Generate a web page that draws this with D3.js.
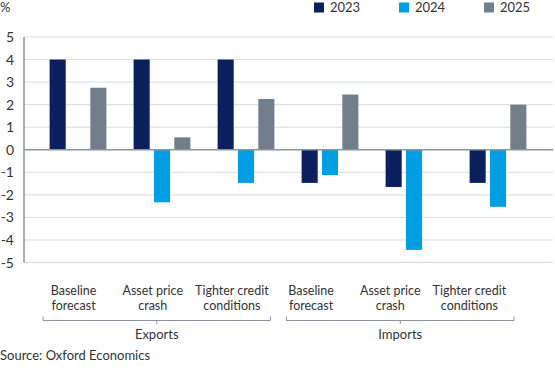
<!DOCTYPE html>
<html>
<head>
<meta charset="utf-8">
<script src="https://cdn.jsdelivr.net/npm/d3@7"></script>
<style>
  body { margin: 0; background: #fff; }
  svg text { font-family: Lato, "Open Sans", sans-serif; fill: #333; }
</style>
</head>
<body>
<div id="chart"></div>
<script>
// grouped bar chart: trade growth by scenario, 2023-2025

var scenarios = ['Baseline forecast', 'Asset price crash', 'Tighter credit conditions'];
var flows = ['Exports', 'Imports'];
var years = ['2023', '2024', '2025'];
// one row per year, six values: exports x3 scenarios, then imports x3 scenarios
var values2023 = [4.0, 4.0, 4.0, -1.47, -1.65, -1.47];
var values2024 = [0, -2.33, -1.47, -1.12, -4.44, -2.53];
var values2025 = [2.75, 0.55, 2.25, 2.45, 0, 2.0];
var yTicks = [5, 4, 3, 2, 1, 0, -1, -2, -3, -4, -5];

var colors = ['#0a1f5c', '#009fe3', '#737e8c'];
var width = 555;
var height = 372;

var svg = d3.select('#chart').append('svg')
      .attr('width', width)
      .attr('height', height);

// category keys like "Exports|Baseline forecast"
var cats = [];
flows.forEach(f => scenarios.forEach(s => cats.push(f + '|' + s)));

var series = [values2023, values2024, values2025];
var data = cats.map((c, i) => ({
      cat: c,
      vals: years.map((y, j) => ({ year: y, value: series[j][i] }))
}));

var x0 = d3.scaleBand().domain(cats).range([36, 540]);
var x1 = d3.scaleBand().domain(years).range([0, x0.bandwidth()])
      .paddingInner(0.21).paddingOuter(0.67);
var y = d3.scaleLinear().domain([-5, 5]).range([262.5, 37]);

// labels sit on a slightly narrower band than the bars (as in the source image)
var xLabel = d3.scaleBand().domain(cats).range([34, 509]);
var xGroup = d3.scaleBand().domain(flows).range([43, 514]).paddingInner(0.066);

// gridlines
svg.append('g')
      .selectAll('line')
      .data(yTicks.filter(d => d !== 0))
      .enter().append('line')
      .attr('x1', 24).attr('x2', 553)
      .attr('y1', d => y(d)).attr('y2', d => y(d))
      .attr('stroke', '#d9dde2')
      .attr('stroke-width', 1);

// y tick labels
svg.append('g')
      .selectAll('text')
      .data(yTicks)
      .enter().append('text')
      .attr('x', 14)
      .attr('y', d => y(d) + 5)
      .attr('text-anchor', 'end')
      .style('font-size', '14px')
      .text(d => d);

svg.append('text')
      .attr('x', 0).attr('y', 12)
      .style('font-size', '13px')
      .text('%');

// bars
var groups = svg.append('g')
      .selectAll('g')
      .data(data)
      .enter().append('g')
      .attr('transform', d => 'translate(' + x0(d.cat) + ',0)');

groups.selectAll('rect')
      .data(d => d.vals.filter(v => v.value !== 0))
      .enter().append('rect')
      .attr('x', d => x1(d.year))
      .attr('width', x1.bandwidth())
      .attr('y', d => y(Math.max(0, d.value)))
      .attr('height', d => Math.abs(y(d.value) - y(0)))
      .attr('fill', d => colors[years.indexOf(d.year)]);

// zero line and y axis line
svg.append('line')
      .attr('x1', 24).attr('x2', 553)
      .attr('y1', y(0)).attr('y2', y(0))
      .attr('stroke', '#8a95a1').attr('stroke-width', 1.5);
svg.append('line')
      .attr('x1', 24).attr('x2', 24)
      .attr('y1', y(5)).attr('y2', y(-5))
      .attr('stroke', '#8a95a1').attr('stroke-width', 1.5);

// scenario labels, two lines each, one text per line
var labelLines = {
      'Baseline forecast': ['Baseline', 'forecast'],
      'Asset price crash': ['Asset price', 'crash'],
      'Tighter credit conditions': ['Tighter credit', 'conditions']
};
var lineData = [];
cats.forEach(c => labelLines[c.split('|')[1]].forEach((t, i) => lineData.push({ cat: c, text: t, row: i })));
svg.append('g')
      .selectAll('text')
      .data(lineData)
      .enter().append('text')
      .attr('x', d => xLabel(d.cat) + xLabel.bandwidth() / 2)
      .attr('y', d => 294.5 + d.row * 15)
      .attr('text-anchor', 'middle')
      .style('font-size', '12.5px')
      .text(d => d.text);

// brackets for Exports / Imports
var brackets = svg.append('g')
      .selectAll('g')
      .data(flows)
      .enter().append('g');
brackets.append('path')
      .attr('d', d => {
            var a = xGroup(d), b = xGroup(d) + xGroup.bandwidth(), m = (a + b) / 2;
            return 'M' + a + ',316.5V320.5H' + b + 'V316.5M' + m + ',320.5V324';
      })
      .attr('fill', 'none')
      .attr('stroke', '#8a95a1')
      .attr('stroke-width', 1);
brackets.append('text')
      .attr('x', d => xGroup(d) + xGroup.bandwidth() / 2)
      .attr('y', 339)
      .attr('text-anchor', 'middle')
      .style('font-size', '13px')
      .text(d => d);

// legend
var legend = svg.append('g')
      .selectAll('g')
      .data(years)
      .enter().append('g')
      .attr('transform', (d, i) => 'translate(' + [314, 399, 484][i] + ',0)');
legend.append('rect')
      .attr('x', 0).attr('y', 2.5)
      .attr('width', 10).attr('height', 10)
      .attr('fill', (d, i) => colors[i]);
legend.append('text')
      .attr('x', 16).attr('y', 12)
      .style('font-size', '13px')
      .text(d => d);

svg.append('text')
      .attr('x', 0).attr('y', 360)
      .style('font-size', '13px')
      .text('Source: Oxford Economics');
</script>
</body>
</html>
